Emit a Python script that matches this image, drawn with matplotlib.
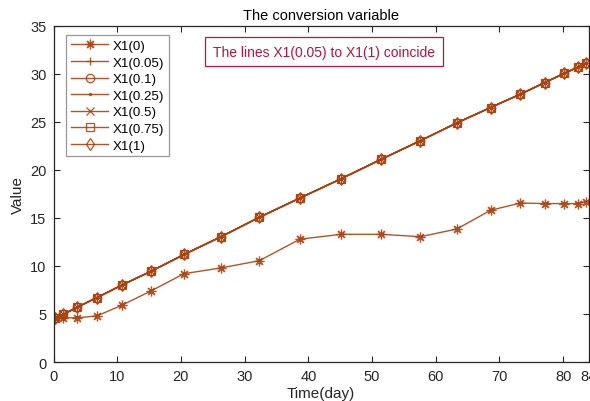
import matplotlib
matplotlib.use("Agg")
import matplotlib.pyplot as plt

plt.rcParams['font.family'] = ['Liberation Sans', 'DejaVu Sans']

days = [0.2, 1.5, 3.7, 6.8, 10.7, 15.3, 20.5, 26.3, 32.3, 38.7, 45.2, 51.4,
        57.6, 63.3, 68.6, 73.3, 77.1, 80.2, 82.3, 83.6]
x1_0 = [4.6, 4.6, 4.6, 4.8, 5.9, 7.4, 9.2, 9.8, 10.55, 12.8, 13.3, 13.3,
        13.05, 13.85, 15.8, 16.56, 16.5, 16.5, 16.5, 16.7]
x1_coincide = [4.6, 4.95, 5.7, 6.7, 8.0, 9.45, 11.2, 13.05, 15.07, 17.08, 19.1, 21.1,
               23.05, 24.9, 26.5, 27.9, 29.1, 30.07, 30.7, 31.15]
labels = ['X1(0)', 'X1(0.05)', 'X1(0.1)', 'X1(0.25)', 'X1(0.5)', 'X1(0.75)', 'X1(1)']
markers = [(8, 2, 0), '+', 'o', '.', 'x', 's', 'd']
xticks = [0, 10, 20, 30, 40, 50, 60, 70, 80, 84]
yticks = [0, 5, 10, 15, 20, 25, 30, 35]

color = '#A8420F'

fig = plt.figure(figsize=(5.9, 4.02), dpi=100)
ax = fig.add_axes([0.0907, 0.097, 0.907, 0.836])

series = [x1_0] + [x1_coincide] * 6
for vals, lab, mk in zip(series, labels, markers):
    ms = 3 if mk == '.' else (7 if lab == 'X1(0)' else 6)
    ax.plot(days, vals, color=color, lw=1.0, marker=mk, markersize=ms,
            markerfacecolor='none', markeredgecolor=color, markeredgewidth=0.9,
            label=lab, alpha=0.9)

ax.set_xlim(0, 84)
ax.set_ylim(0, 35)
ax.set_xticks(xticks)
ax.set_yticks(yticks)
ax.tick_params(direction='in', top=True, right=True, length=4, width=0.8,
               labelsize=10.5, colors='#262626', pad=5)
for sp in ax.spines.values():
    sp.set_color('#262626')
    sp.set_linewidth(0.9)

ax.set_title('The conversion variable', fontsize=10.5, pad=5)
ax.set_xlabel('Time(day)', fontsize=11, color='#262626', labelpad=2)
ax.set_ylabel('Value', fontsize=11, color='#262626', labelpad=4)

leg = ax.legend(loc='upper left', bbox_to_anchor=(0.024, 0.973), fontsize=9.6,
                frameon=True, fancybox=False, edgecolor='#7f7f7f',
                handlelength=2.8, handletextpad=0.3, labelspacing=0.32,
                borderpad=0.35, borderaxespad=0)
leg.get_frame().set_linewidth(0.9)

ax.text(0.298, 0.923, 'The lines X1(0.05) to X1(1) coincide', transform=ax.transAxes,
        fontsize=10, color='#B0163F', va='center', ha='left',
        bbox=dict(boxstyle='square,pad=0.55', facecolor='white', edgecolor='#B0163F', lw=0.9))

fig.savefig('out.png', dpi=100)
